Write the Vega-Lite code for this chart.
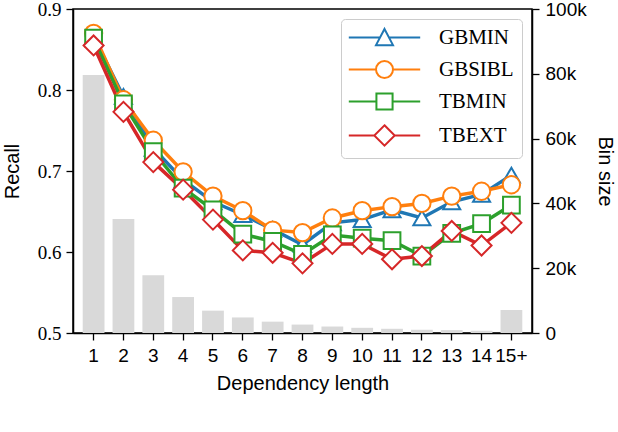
{
  "$schema": "https://vega.github.io/schema/vega-lite/v6.json",
  "width": 459,
  "height": 324,
  "autosize": {"type": "none"},
  "padding": {"left": 73, "top": 9, "right": 86, "bottom": 99},
  "config": {
    "view": {"stroke": "black", "strokeWidth": 1.5},
    "axis": {
      "domainColor": "black",
      "domainWidth": 1.5,
      "tickColor": "black",
      "tickWidth": 1.3,
      "tickSize": 7,
      "grid": false,
      "labelColor": "black",
      "titleColor": "black",
      "labelFont": "Liberation Sans",
      "titleFont": "Liberation Sans",
      "labelFontSize": 19,
      "titleFontSize": 20,
      "titleFontWeight": "normal"
    },
    "point": {"filled": false, "fill": "white", "fillOpacity": 1, "opacity": 1, "size": 300, "strokeWidth": 2}
  },
  "datasets": {
    "bins": [
      {"len": "1", "count": 79600},
      {"len": "2", "count": 35200},
      {"len": "3", "count": 17800},
      {"len": "4", "count": 11100},
      {"len": "5", "count": 6900},
      {"len": "6", "count": 4800},
      {"len": "7", "count": 3500},
      {"len": "8", "count": 2600},
      {"len": "9", "count": 2000},
      {"len": "10", "count": 1600},
      {"len": "11", "count": 1300},
      {"len": "12", "count": 1000},
      {"len": "13", "count": 900},
      {"len": "14", "count": 700},
      {"len": "15+", "count": 7100}
    ],
    "recall": [
      {"len": "1", "method": "GbMin", "recall": 0.866},
      {"len": "2", "method": "GbMin", "recall": 0.792},
      {"len": "3", "method": "GbMin", "recall": 0.728},
      {"len": "4", "method": "GbMin", "recall": 0.689},
      {"len": "5", "method": "GbMin", "recall": 0.662},
      {"len": "6", "method": "GbMin", "recall": 0.646},
      {"len": "7", "method": "GbMin", "recall": 0.628},
      {"len": "8", "method": "GbMin", "recall": 0.609},
      {"len": "9", "method": "GbMin", "recall": 0.636},
      {"len": "10", "method": "GbMin", "recall": 0.640},
      {"len": "11", "method": "GbMin", "recall": 0.652},
      {"len": "12", "method": "GbMin", "recall": 0.642},
      {"len": "13", "method": "GbMin", "recall": 0.662},
      {"len": "14", "method": "GbMin", "recall": 0.671},
      {"len": "15+", "method": "GbMin", "recall": 0.695},
      {"len": "1", "method": "GbSibl", "recall": 0.870},
      {"len": "2", "method": "GbSibl", "recall": 0.788},
      {"len": "3", "method": "GbSibl", "recall": 0.738},
      {"len": "4", "method": "GbSibl", "recall": 0.699},
      {"len": "5", "method": "GbSibl", "recall": 0.669},
      {"len": "6", "method": "GbSibl", "recall": 0.651},
      {"len": "7", "method": "GbSibl", "recall": 0.627},
      {"len": "8", "method": "GbSibl", "recall": 0.624},
      {"len": "9", "method": "GbSibl", "recall": 0.642},
      {"len": "10", "method": "GbSibl", "recall": 0.651},
      {"len": "11", "method": "GbSibl", "recall": 0.656},
      {"len": "12", "method": "GbSibl", "recall": 0.660},
      {"len": "13", "method": "GbSibl", "recall": 0.669},
      {"len": "14", "method": "GbSibl", "recall": 0.675},
      {"len": "15+", "method": "GbSibl", "recall": 0.683},
      {"len": "1", "method": "TbMin", "recall": 0.864},
      {"len": "2", "method": "TbMin", "recall": 0.783},
      {"len": "3", "method": "TbMin", "recall": 0.724},
      {"len": "4", "method": "TbMin", "recall": 0.679},
      {"len": "5", "method": "TbMin", "recall": 0.652},
      {"len": "6", "method": "TbMin", "recall": 0.622},
      {"len": "7", "method": "TbMin", "recall": 0.613},
      {"len": "8", "method": "TbMin", "recall": 0.597},
      {"len": "9", "method": "TbMin", "recall": 0.621},
      {"len": "10", "method": "TbMin", "recall": 0.617},
      {"len": "11", "method": "TbMin", "recall": 0.614},
      {"len": "12", "method": "TbMin", "recall": 0.595},
      {"len": "13", "method": "TbMin", "recall": 0.623},
      {"len": "14", "method": "TbMin", "recall": 0.635},
      {"len": "15+", "method": "TbMin", "recall": 0.658},
      {"len": "1", "method": "TbExt", "recall": 0.855},
      {"len": "2", "method": "TbExt", "recall": 0.773},
      {"len": "3", "method": "TbExt", "recall": 0.711},
      {"len": "4", "method": "TbExt", "recall": 0.677},
      {"len": "5", "method": "TbExt", "recall": 0.640},
      {"len": "6", "method": "TbExt", "recall": 0.602},
      {"len": "7", "method": "TbExt", "recall": 0.599},
      {"len": "8", "method": "TbExt", "recall": 0.586},
      {"len": "9", "method": "TbExt", "recall": 0.610},
      {"len": "10", "method": "TbExt", "recall": 0.610},
      {"len": "11", "method": "TbExt", "recall": 0.591},
      {"len": "12", "method": "TbExt", "recall": 0.595},
      {"len": "13", "method": "TbExt", "recall": 0.626},
      {"len": "14", "method": "TbExt", "recall": 0.608},
      {"len": "15+", "method": "TbExt", "recall": 0.636}
    ]
  },
  "layer": [
    {
      "data": {"name": "bins"},
      "mark": {"type": "bar", "color": "#d9d9d9"},
      "encoding": {
        "x": {
          "field": "len",
          "type": "ordinal",
          "sort": null,
          "scale": {"paddingInner": 0.27, "paddingOuter": 0.325},
          "axis": {"labelAngle": 0, "title": "Dependency length", "titlePadding": 8, "labelPadding": 6}
        },
        "y": {
          "field": "count",
          "type": "quantitative",
          "scale": {"domain": [0, 100000], "nice": false},
          "axis": {
            "orient": "right",
            "title": "Bin size",
            "values": [0, 20000, 40000, 60000, 80000, 100000],
            "labelExpr": "datum.value == 0 ? '0' : (datum.value / 1000) + 'k'",
            "labelFontSize": 19,
            "labelPadding": 6,
            "titlePadding": 8
          }
        }
      }
    },
    {
      "data": {"name": "recall"},
      "encoding": {
        "x": {"field": "len", "type": "ordinal", "sort": null},
        "y": {
          "field": "recall",
          "type": "quantitative",
          "scale": {"domain": [0.5, 0.9], "nice": false, "zero": false},
          "axis": {
            "title": "Recall",
            "values": [0.5, 0.6, 0.7, 0.8, 0.9],
            "format": ".1f",
            "labelFont": "Liberation Serif",
            "labelFontSize": 19,
            "labelPadding": 5,
            "titlePadding": 15
          }
        },
        "color": {
          "field": "method",
          "type": "nominal",
          "scale": {
            "domain": ["GbMin", "GbSibl", "TbMin", "TbExt"],
            "range": ["#1f77b4", "#ff7f0e", "#2ca02c", "#d62728"]
          }
        }
      },
      "layer": [
        {"mark": {"type": "line", "strokeWidth": 3.5}},
        {
          "transform": [{"filter": "datum.method == 'GbMin'"}],
          "mark": {"type": "point", "shape": "triangle-up", "size": 290}
        },
        {
          "transform": [{"filter": "datum.method == 'GbSibl'"}],
          "mark": {"type": "point", "shape": "circle", "size": 300}
        },
        {
          "transform": [{"filter": "datum.method == 'TbMin'"}],
          "mark": {"type": "point", "shape": "square", "size": 280}
        },
        {
          "transform": [{"filter": "datum.method == 'TbExt'"}],
          "mark": {"type": "point", "shape": "diamond", "size": 400}
        },
        {
          "transform": [{"filter": "datum.recall < 0"}],
          "mark": {"type": "point", "size": 289, "strokeWidth": 2.8},
          "encoding": {
            "color": {
              "field": "method",
              "type": "nominal",
              "legend": {
                "title": null,
                "orient": "top-right",
                "offset": 10,
                "padding": 8,
                "fillColor": "white",
                "strokeColor": "#cccccc",
                "cornerRadius": 4,
                "symbolSize": 289,
                "symbolStrokeWidth": 2.8,
                "symbolFillColor": "white",
                "symbolOffset": 25,
                "rowPadding": 7,
                "labelOffset": 44,
                "labelFont": "Liberation Serif",
                "labelFontSize": 21,
                "labelColor": "black",
                "labelExpr": "upper(datum.label)"
              }
            },
            "shape": {
              "field": "method",
              "type": "nominal",
              "scale": {
                "domain": ["GbMin", "GbSibl", "TbMin", "TbExt"],
                "range": [
                  "M-4.2,0L-0.53,0M0.53,0L4.2,0M0,-1L1,0.9L-1,0.9Z",
                  "M-4.2,0L-1,0M1,0L4.2,0M1,0A1,1,0,1,1,-1,0A1,1,0,1,1,1,0Z",
                  "M-4.2,0L-0.95,0M0.95,0L4.2,0M-0.95,-0.95L0.95,-0.95L0.95,0.95L-0.95,0.95Z",
                  "M-4.2,0L-1.2,0M1.2,0L4.2,0M0,-1.2L1.2,0L0,1.2L-1.2,0Z"
                ]
              },
              "legend": null
            }
          }
        }
      ]
    }
  ],
  "resolve": {"scale": {"y": "independent"}}
}
